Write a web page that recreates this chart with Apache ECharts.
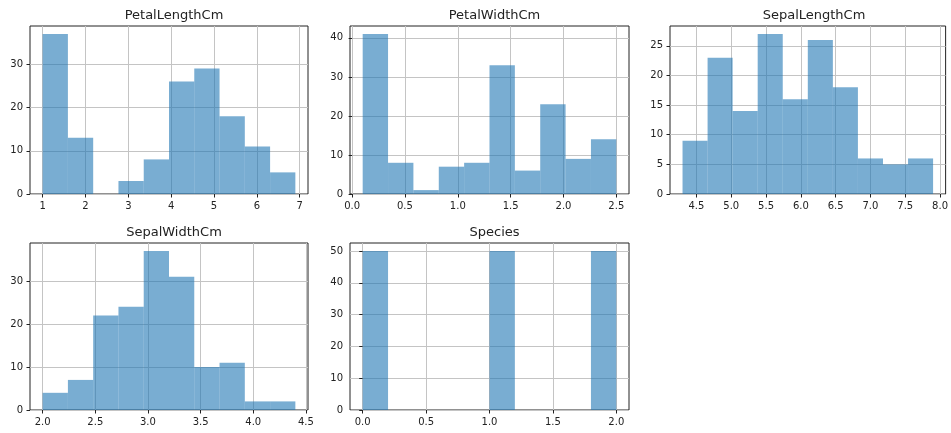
<!DOCTYPE html>
<html>
<head>
<meta charset="utf-8">
<script src="https://cdn.jsdelivr.net/npm/echarts@6/dist/echarts.min.js"></script>
<style>
html,body{margin:0;padding:0;background:#fff;}
#chart{width:951px;height:433px;}
</style>
</head>
<body>
<div id="chart"></div>
<script>
// ---- data (Iris histograms, 10 bins each) ----
const titles = ["PetalLengthCm", "PetalWidthCm", "SepalLengthCm", "SepalWidthCm", "Species"];

const petalLengthEdges = [1.0, 1.59, 2.18, 2.77, 3.36, 3.95, 4.54, 5.13, 5.72, 6.31, 6.9];
const petalLengthCounts = [37, 13, 0, 3, 8, 26, 29, 18, 11, 5];

const petalWidthEdges = [0.1, 0.34, 0.58, 0.82, 1.06, 1.3, 1.54, 1.78, 2.02, 2.26, 2.5];
const petalWidthCounts = [41, 8, 1, 7, 8, 33, 6, 23, 9, 14];

const sepalLengthEdges = [4.3, 4.66, 5.02, 5.38, 5.74, 6.1, 6.46, 6.82, 7.18, 7.54, 7.9];
const sepalLengthCounts = [9, 23, 14, 27, 16, 26, 18, 6, 5, 6];

const sepalWidthEdges = [2.0, 2.24, 2.48, 2.72, 2.96, 3.2, 3.44, 3.68, 3.92, 4.16, 4.4];
const sepalWidthCounts = [4, 7, 22, 24, 37, 31, 10, 11, 2, 2];

const speciesEdges = [0.0, 0.2, 0.4, 0.6, 0.8, 1.0, 1.2, 1.4, 1.6, 1.8, 2.0];
const speciesCounts = [50, 0, 0, 0, 0, 50, 0, 0, 0, 50];

// tick labels
const petalLengthXTicks = ["1", "2", "3", "4", "5", "6", "7"];
const petalWidthXTicks = ["0.0", "0.5", "1.0", "1.5", "2.0", "2.5"];
const sepalLengthXTicks = ["4.5", "5.0", "5.5", "6.0", "6.5", "7.0", "7.5", "8.0"];
const sepalWidthXTicks = ["2.0", "2.5", "3.0", "3.5", "4.0", "4.5"];
const speciesXTicks = ["0.0", "0.5", "1.0", "1.5", "2.0"];

const petalLengthYTicks = [0, 10, 20, 30];
const petalWidthYTicks = [0, 10, 20, 30, 40];
const sepalLengthYTicks = [0, 5, 10, 15, 20, 25];
const sepalWidthYTicks = [0, 10, 20, 30];
const speciesYTicks = [0, 10, 20, 30, 40, 50];

// ---- layout ----
const panels = [
  {edges: petalLengthEdges, counts: petalLengthCounts, xt: petalLengthXTicks, yt: petalLengthYTicks, box: {left: 30, top: 26, width: 278, height: 168}},
  {edges: petalWidthEdges, counts: petalWidthCounts, xt: petalWidthXTicks, yt: petalWidthYTicks, box: {left: 350, top: 26, width: 279, height: 168}},
  {edges: sepalLengthEdges, counts: sepalLengthCounts, xt: sepalLengthXTicks, yt: sepalLengthYTicks, box: {left: 670, top: 26, width: 278, height: 168}},
  {edges: sepalWidthEdges, counts: sepalWidthCounts, xt: sepalWidthXTicks, yt: sepalWidthYTicks, box: {left: 30, top: 243, width: 278, height: 167}},
  {edges: speciesEdges, counts: speciesCounts, xt: speciesXTicks, yt: speciesYTicks, box: {left: 350, top: 243, width: 279, height: 167}}
];

const FONT = "DejaVu Sans";
const grids = [], xAxes = [], yAxes = [], series = [], titleOpts = [];

panels.forEach((p, i) => {
  const lo = p.edges[0], hi = p.edges[p.edges.length - 1];
  const pad = (hi - lo) * 0.05;
  const ymax = Math.max.apply(null, p.counts) * 1.05;
  grids.push(Object.assign({show: true, borderColor: "#222", borderWidth: 1, backgroundColor: "transparent"}, p.box));
  titleOpts.push({
    text: titles[i],
    left: p.box.left + p.box.width / 2,
    top: p.box.top - 22,
    textAlign: "center",
    textStyle: {fontFamily: FONT, fontSize: 13, fontWeight: "normal", color: "#222"}
  });
  const xVals = p.xt.map(Number);
  xAxes.push({
    type: "value", gridIndex: i, min: lo - pad, max: hi + pad,
    axisLine: {show: false},
    axisTick: {show: true, inside: false, length: 3.5, lineStyle: {color: "#222", width: 1}, customValues: xVals},
    axisLabel: {show: true, margin: 7, fontFamily: FONT, fontSize: 10, color: "#222", customValues: xVals,
      formatter: (v) => { const k = xVals.findIndex(t => Math.abs(t - v) < 1e-9); return k >= 0 ? p.xt[k] : ""; }},
    splitLine: {show: true, lineStyle: {color: "#c4c4c4", width: 1}, customValues: xVals}
  });
  yAxes.push({
    type: "value", gridIndex: i, min: 0, max: ymax,
    axisLine: {show: false},
    axisTick: {show: true, inside: false, length: 3.5, lineStyle: {color: "#222", width: 1}, customValues: p.yt},
    axisLabel: {show: true, margin: 7, fontFamily: FONT, fontSize: 10, color: "#222", customValues: p.yt},
    splitLine: {show: true, lineStyle: {color: "#c4c4c4", width: 1}, customValues: p.yt}
  });
  const data = p.counts.map((c, k) => [p.edges[k], p.edges[k + 1], c]);
  series.push({
    type: "custom", xAxisIndex: i, yAxisIndex: i,
    encode: {x: [0, 1], y: 2},
    data: data,
    renderItem: function (params, api) {
      const a = api.coord([api.value(0), api.value(2)]);
      const b = api.coord([api.value(1), 0]);
      return {type: "rect", shape: {x: a[0], y: a[1], width: b[0] - a[0], height: b[1] - a[1]},
        style: {fill: "rgba(31,119,180,0.6)"}};
    },
    silent: true, animation: false
  });
});

const chart = echarts.init(document.getElementById("chart"), null, {renderer: "canvas"});
chart.setOption({
  animation: false,
  title: titleOpts,
  grid: grids,
  xAxis: xAxes,
  yAxis: yAxes,
  series: series
});
</script>
</body>
</html>
